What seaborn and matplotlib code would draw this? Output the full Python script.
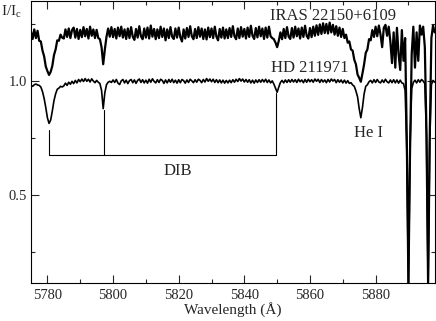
import numpy as np
import matplotlib
matplotlib.use("Agg")
import matplotlib.pyplot as plt
from matplotlib.ticker import MultipleLocator
import seaborn as sns

# wavelength grid: 0.5 A steps starting at 5775 A
wave_start = 5775.0
wave_step = 0.5

# HD 211971, normalised flux
hd_flux = [
    0.982, 0.978, 0.985, 0.988, 0.984, 0.982, 0.975, 0.955, 0.925, 0.885,
    0.840, 0.815, 0.830, 0.870, 0.915, 0.945, 0.965, 0.970, 0.978, 0.975,
    0.980, 0.992, 0.982, 0.996, 0.987, 1.000, 0.990, 1.004, 0.993, 1.008,
    0.998, 1.010, 0.999, 1.012, 1.000, 1.009, 0.997, 1.011, 1.001, 0.994,
    1.004, 0.996, 0.990, 0.960, 0.880, 0.950, 0.985, 0.996, 1.000, 0.995,
    1.006, 0.995, 1.008, 0.992, 0.986, 1.002, 1.008, 0.993, 1.005, 0.990,
    1.003, 1.008, 0.994, 1.006, 0.991, 1.004, 1.010, 0.995, 1.007, 0.993,
    1.005, 0.992, 1.009, 0.996, 1.011, 1.000, 0.993, 1.007, 0.995, 1.009,
    1.004, 0.991, 1.006, 0.993, 1.008, 0.996, 1.009, 0.994, 1.005, 0.992,
    1.007, 0.994, 1.008, 1.003, 0.992, 1.006, 0.995, 1.009, 1.002, 0.994,
    1.007, 0.996, 1.009, 1.004, 0.994, 1.008, 0.997, 1.012, 1.000, 1.010,
    0.998, 1.009, 0.995, 1.007, 0.994, 1.006, 0.993, 1.005, 0.992, 1.004,
    0.993, 1.005, 0.994, 1.007, 0.996, 1.009, 0.999, 1.012, 1.001, 1.010,
    0.997, 1.008, 0.996, 1.007, 0.993, 1.005, 0.992, 1.006, 0.995, 1.007,
    0.996, 1.008, 0.997, 1.009, 0.995, 1.006, 0.993, 1.002, 0.988, 0.970,
    0.952, 0.975, 0.995, 1.004, 0.993, 1.006, 0.995, 1.007, 0.996, 1.008,
    0.997, 1.007, 0.995, 1.009, 0.998, 1.006, 0.994, 1.008, 0.996, 1.009,
    0.998, 1.007, 0.996, 1.010, 1.000, 1.009, 0.995, 1.008, 0.997, 1.006,
    0.994, 1.008, 0.997, 1.010, 1.001, 1.008, 0.994, 1.007, 0.996, 1.006,
    0.993, 1.005, 0.992, 1.003, 0.991, 0.994, 0.984, 0.978, 0.958, 0.932,
    0.880, 0.840, 0.885, 0.945, 0.978, 0.985, 0.998, 1.004, 0.993, 1.007,
    0.995, 1.008, 0.997, 0.993, 1.006, 0.995, 1.009, 0.998, 0.993, 1.006,
    0.994, 1.007, 0.993, 1.006, 0.992, 1.005, 0.993, 0.990, 0.960, 0.700,
    0.100, 0.720, 0.968, 0.995, 1.005, 0.993, 1.007, 0.996, 1.008, 1.001,
    0.990, 0.760, 0.110, 0.740, 0.985, 1.004, 0.996,
]

# IRAS 22150+6109, flux as plotted (shifted up)
iras_flux = [
    1.218, 1.186, 1.228, 1.190, 1.222, 1.178, 1.175, 1.135, 1.110, 1.065,
    1.045, 1.028, 1.042, 1.068, 1.115, 1.140, 1.180, 1.178, 1.205, 1.192,
    1.188, 1.228, 1.195, 1.232, 1.190, 1.225, 1.236, 1.192, 1.230, 1.186,
    1.226, 1.194, 1.238, 1.198, 1.230, 1.188, 1.240, 1.200, 1.228, 1.190,
    1.226, 1.190, 1.185, 1.150, 1.075, 1.140, 1.195, 1.232, 1.196, 1.238,
    1.194, 1.230, 1.188, 1.236, 1.198, 1.240, 1.192, 1.228, 1.186, 1.232,
    1.190, 1.238, 1.196, 1.182, 1.230, 1.192, 1.242, 1.198, 1.185, 1.232,
    1.192, 1.236, 1.188, 1.245, 1.196, 1.230, 1.185, 1.228, 1.190, 1.240,
    1.195, 1.232, 1.180, 1.228, 1.190, 1.238, 1.196, 1.186, 1.232, 1.192,
    1.236, 1.194, 1.175, 1.228, 1.188, 1.234, 1.195, 1.242, 1.198, 1.185,
    1.230, 1.190, 1.238, 1.196, 1.232, 1.186, 1.228, 1.184, 1.236, 1.194,
    1.232, 1.190, 1.240, 1.196, 1.180, 1.230, 1.192, 1.236, 1.188, 1.228,
    1.190, 1.234, 1.195, 1.242, 1.198, 1.185, 1.232, 1.190, 1.238, 1.196,
    1.230, 1.188, 1.236, 1.195, 1.244, 1.200, 1.186, 1.234, 1.193, 1.240,
    1.198, 1.232, 1.186, 1.236, 1.192, 1.240, 1.198, 1.190, 1.185, 1.170,
    1.150, 1.178, 1.215, 1.185, 1.230, 1.190, 1.238, 1.196, 1.186, 1.234,
    1.192, 1.240, 1.198, 1.232, 1.188, 1.236, 1.195, 1.244, 1.200, 1.188,
    1.234, 1.194, 1.240, 1.200, 1.246, 1.204, 1.250, 1.208, 1.255, 1.212,
    1.252, 1.210, 1.258, 1.215, 1.248, 1.205, 1.242, 1.200, 1.236, 1.195,
    1.230, 1.190, 1.205, 1.170, 1.175, 1.140, 1.135, 1.095, 1.075, 1.030,
    1.015, 0.998, 1.035, 1.075, 1.125, 1.140, 1.185, 1.180, 1.225, 1.195,
    1.240, 1.198, 1.245, 1.205, 1.150, 1.235, 1.248, 1.200, 1.240, 1.175,
    1.080, 1.215, 1.060, 1.235, 1.120, 1.050, 1.225, 1.090, 1.190, 0.750,
    0.110, 0.700, 1.120, 1.240, 1.060, 1.215, 1.090, 1.245, 1.205, 1.240,
    1.150, 0.780, 0.105, 0.760, 1.190, 1.245, 1.215,
]

# DIB marker: band wavelengths and the top of each marker line
dib_wave = [5780.5, 5797.1, 5849.8]
dib_top = [0.785, 0.875, 0.95]
dib_base = 0.675

wave = wave_start + wave_step * np.arange(len(hd_flux))

sns.set_style("ticks")
plt.rcParams["font.family"] = ["Liberation Serif", "DejaVu Serif"]
plt.rcParams["mathtext.fontset"] = "custom"
plt.rcParams["mathtext.rm"] = "Liberation Serif"
plt.rcParams["mathtext.it"] = "Liberation Serif:italic"

fig = plt.figure(figsize=(4.36, 3.21), dpi=100)
ax = fig.add_axes([31 / 436, 1 - 283 / 321, 404 / 436, 282.5 / 321])

sns.lineplot(x=wave, y=iras_flux, ax=ax, color="black", lw=1.6,
             estimator=None, sort=False)
sns.lineplot(x=wave, y=hd_flux, ax=ax, color="black", lw=1.2,
             estimator=None, sort=False)

# DIB bracket
for w, t in zip(dib_wave, dib_top):
    ax.plot([w, w], [dib_base, t], color="black", lw=0.8)
ax.plot([dib_wave[0], dib_wave[-1]], [dib_base, dib_base], color="black", lw=0.8)

ax.text(5847.9, 1.268, "IRAS 22150+6109", fontsize=12, ha="left", va="baseline")
ax.text(5848.2, 1.040, "HD 211971", fontsize=12, ha="left", va="baseline")
ax.text(5877.7, 0.754, "He I", fontsize=12, ha="center", va="baseline")
ax.text(5819.8, 0.588, "DIB", fontsize=12, ha="center", va="baseline")

ax.set_xlim(5775.0, 5898.1)
ax.set_ylim(0.114, 1.355)

ax.xaxis.set_major_locator(MultipleLocator(20))
ax.xaxis.set_minor_locator(MultipleLocator(10))
ax.yaxis.set_major_locator(MultipleLocator(0.5))
ax.yaxis.set_minor_locator(MultipleLocator(0.25))
ax.tick_params(which="both", direction="in", top=True, right=True,
               labelsize=10.5, width=0.8)
ax.tick_params(which="major", length=6)
ax.tick_params(which="minor", length=3)
ax.tick_params(axis="x", pad=4)
ax.tick_params(axis="y", pad=3)

for sp in ax.spines.values():
    sp.set_linewidth(0.8)
    sp.set_color("black")

ax.set_xlabel("Wavelength (Å)", fontsize=11)
ax.xaxis.set_label_coords(0.5, -0.066)
ax.set_ylabel("")

fig.text(1 / 436, 1 - 16 / 321, r"I/I$_{\rm c}$", fontsize=11,
         ha="left", va="baseline")

fig.savefig("out.png", dpi=100)
